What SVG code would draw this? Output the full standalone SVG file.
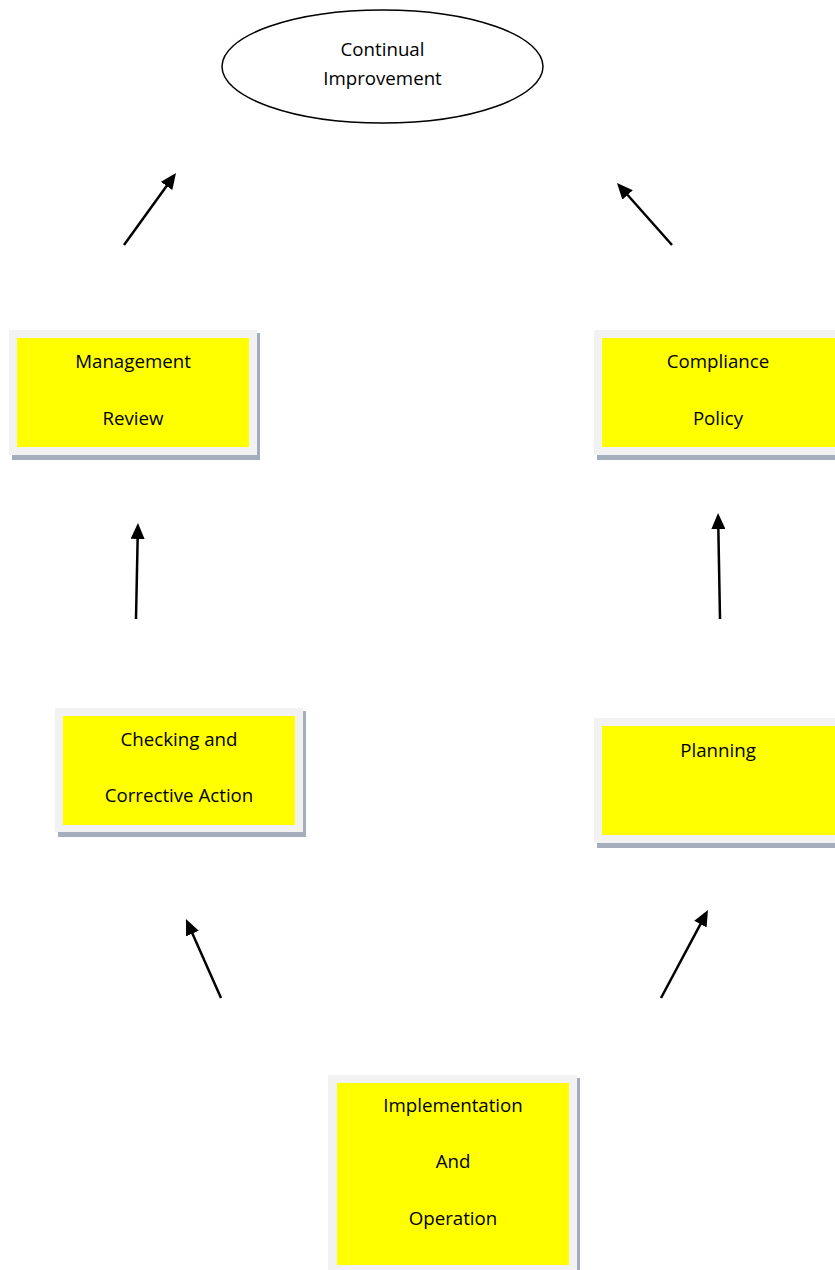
<svg xmlns="http://www.w3.org/2000/svg" width="835" height="1270" viewBox="0 0 835 1270">
<style>
.shadow{fill:#a3adbb}
.frame{fill:#f2f2f2}
.fill{fill:#ffff00}
text{font-family:"Open Sans","Liberation Sans",sans-serif;font-size:18.7px;fill:#000;text-anchor:middle}
.conn line{stroke:#000;stroke-width:2.5;fill:none}
</style>
<defs>
<marker id="ah" markerUnits="userSpaceOnUse" markerWidth="16" markerHeight="14" refX="8" refY="7" orient="auto">
<path d="M0,0 L16,7 L0,14 z" fill="#000"/>
</marker>
</defs>
<rect width="835" height="1270" fill="#fff"/>
<g id="continual">
<ellipse cx="382.5" cy="66.5" rx="160.5" ry="56.5" fill="#fff" stroke="#000" stroke-width="1.5"/>
<text x="382.5" y="56">Continual</text>
<text x="382.5" y="85">Improvement</text>
</g>
<g id="management">
<rect class="shadow" x="12" y="333" width="248" height="127"/>
<rect class="frame" x="9" y="330" width="248" height="125"/>
<rect class="fill" x="17" y="338" width="232" height="109"/>
<text x="133" y="368">Management</text>
<text x="133" y="425">Review</text>
</g>
<g id="compliance">
<rect class="shadow" x="597" y="333" width="250" height="127"/>
<rect class="frame" x="594" y="330" width="250" height="125"/>
<rect class="fill" x="602" y="338" width="240" height="109"/>
<text x="718" y="368">Compliance</text>
<text x="718" y="425">Policy</text>
</g>
<g id="checking">
<rect class="shadow" x="58" y="711" width="248" height="126"/>
<rect class="frame" x="55" y="708" width="248" height="124"/>
<rect class="fill" x="63" y="716" width="232" height="109"/>
<text x="179" y="746">Checking and</text>
<text x="179" y="802">Corrective Action</text>
</g>
<g id="planning">
<rect class="shadow" x="597" y="721" width="250" height="127"/>
<rect class="frame" x="594" y="718" width="250" height="125"/>
<rect class="fill" x="602" y="726" width="240" height="109"/>
<text x="718" y="757">Planning</text>
</g>
<g id="implementation">
<rect class="shadow" x="331" y="1078" width="249" height="200"/>
<rect class="frame" x="328" y="1075" width="249" height="200"/>
<rect class="fill" x="337" y="1083" width="232" height="182"/>
<text x="453" y="1112">Implementation</text>
<text x="453" y="1168">And</text>
<text x="453" y="1225">Operation</text>
</g>
<g id="connectors" class="conn">
<line x1="124" y1="245" x2="171.3" y2="179.5" marker-end="url(#ah)"/>
<line x1="672" y1="245" x2="622.3" y2="189" marker-end="url(#ah)"/>
<line x1="136" y1="619" x2="137.8" y2="531" marker-end="url(#ah)"/>
<line x1="720" y1="619" x2="718.2" y2="521" marker-end="url(#ah)"/>
<line x1="221" y1="998" x2="189.2" y2="926.3" marker-end="url(#ah)"/>
<line x1="661" y1="998" x2="704.2" y2="917.1" marker-end="url(#ah)"/>
</g>
</svg>
